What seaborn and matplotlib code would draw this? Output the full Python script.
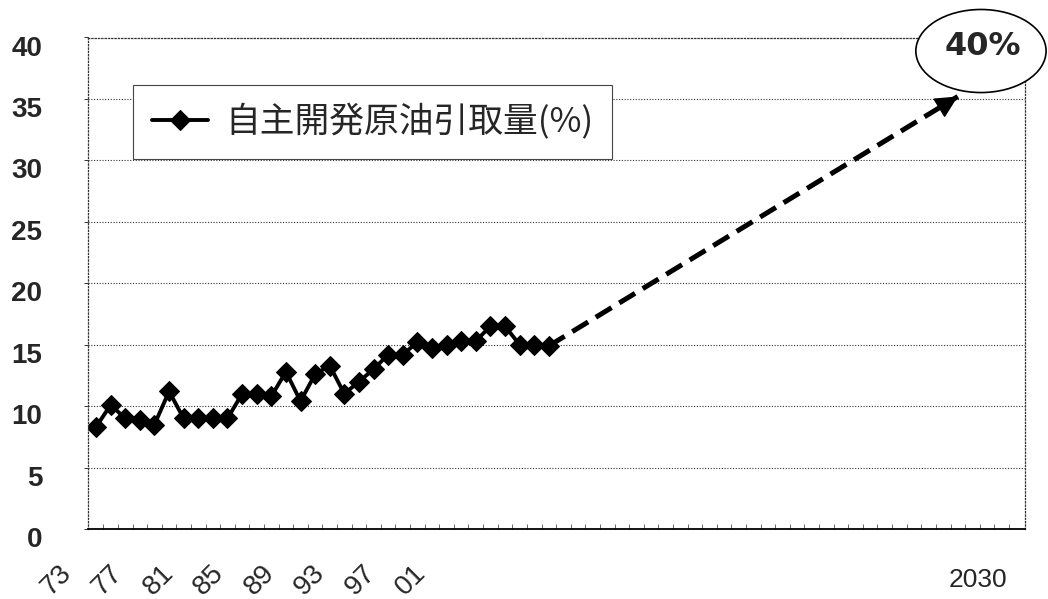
import numpy as np
import pandas as pd
import matplotlib
matplotlib.use('Agg')
import matplotlib.pyplot as plt
import matplotlib.transforms as mtransforms
from matplotlib.patches import Ellipse
import seaborn as sns

# data
years = list(range(1973, 2005))
share = [8.3, 10.1, 9.0, 8.9, 8.5, 11.2, 9.0, 9.0, 9.0, 9.0,
         11.0, 11.0, 10.8, 12.8, 10.4, 12.6, 13.3, 11.0, 12.0, 13.0,
         14.2, 14.2, 15.2, 14.7, 15.0, 15.3, 15.3, 16.5, 16.5, 15.0,
         15.0, 14.9]
proj_years = [2004, 2032]
proj_share = [14.9, 35.2]
year_labels = ['73', '77', '81', '85', '89', '93', '97', '01']
goal_year_label = '2030'
goal_text = '40%'
series_name = '自主開発原油引取量(%)'
y_ticks = [0, 5, 10, 15, 20, 25, 30, 35, 40]

df = pd.DataFrame({'year': years, 'share': share})

sns.set_style('white')
plt.rcParams['font.family'] = ['Liberation Sans', 'Noto Sans CJK JP', 'DejaVu Sans']

W, H = 1048, 599
fig = plt.figure(figsize=(W / 100, H / 100), dpi=100)
ax = fig.add_axes([88 / W, 1 - 529 / H, 937 / W, 491.5 / H])

# main series
sns.lineplot(data=df, x='year', y='share', marker='D', markersize=10,
             color='black', linewidth=2.8, markeredgecolor='black',
             label=series_name, ax=ax)

# dashed projection with arrow head
ax.plot(proj_years, proj_share, color='black', lw=3.6, dashes=(3.7, 1.8),
        dash_capstyle='butt', zorder=3)
p0 = np.array([proj_years[0], proj_share[0]])
p1 = np.array([proj_years[1], proj_share[1]])
ax.annotate('', xy=tuple(p1), xytext=tuple(p0 + 0.95 * (p1 - p0)),
            arrowprops=dict(arrowstyle='-|>', mutation_scale=36, color='black',
                            lw=1, shrinkA=0, shrinkB=0), zorder=4)

ax.set_xlim(1972.45, 2036.6)
ax.set_ylim(0, 40)
ax.set_xlabel('')
ax.set_ylabel('')

# axis ticks
ax.set_xticks([])
ax.set_xticks(np.arange(1973.5, 2036.5, 1), minor=True)
ax.tick_params(axis='x', which='minor', direction='in', length=3.5, width=0.7,
               color='#666', bottom=True)
ax.set_yticks(y_ticks)
ax.tick_params(axis='y', which='major', direction='out', length=3, width=0.7,
               pad=30, labelsize=20, left=True, color='#333')
shift = mtransforms.ScaledTranslation(0, -8 / 100, fig.dpi_scale_trans)
for lab in ax.get_yticklabels():
    lab.set_fontweight('bold')
    lab.set_transform(lab.get_transform() + shift)

ax.yaxis.grid(True, color='#333', linestyle=(0, (1, 1.5)), lw=0.8)
ax.xaxis.grid(False)
ax.set_axisbelow(True)

for side in ['top', 'right', 'left']:
    ax.spines[side].set_linestyle(':')
    ax.spines[side].set_color('#333')
    ax.spines[side].set_linewidth(0.9)
ax.spines['bottom'].set_color('black')
ax.spines['bottom'].set_linewidth(1.3)

# year labels
for i, lab in enumerate(year_labels):
    ax.text(-0.033 + 0.054 * i, -0.104, lab, transform=ax.transAxes,
            rotation=45, ha='center', va='center', fontsize=20, clip_on=False)
ax.text(0.95, -0.104, goal_year_label, transform=ax.transAxes,
        ha='center', va='center', fontsize=19, clip_on=False)

# legend
leg = ax.legend(loc='upper left', bbox_to_anchor=(0.048, 0.903),
                borderaxespad=0, frameon=True, fancybox=False,
                prop={'family': ['Noto Sans CJK JP', 'DejaVu Sans'], 'size': 25},
                handlelength=1.6, handletextpad=0.5, borderpad=0.55,
                edgecolor='#444', framealpha=1)
leg.get_frame().set_linewidth(0.8)

# target bubble
ell = Ellipse((0.953, 0.9725), 0.139, 0.169, transform=ax.transAxes,
              facecolor='white', edgecolor='black', lw=1.2, clip_on=False,
              zorder=5)
ax.add_patch(ell)
ax.text(0.955, 0.982, goal_text, transform=ax.transAxes, ha='center',
        va='center', fontsize=23, fontweight='bold',
        family=['Liberation Sans Narrow', 'DejaVu Sans'], zorder=6,
        clip_on=False)

fig.savefig('out.png', dpi=100)
